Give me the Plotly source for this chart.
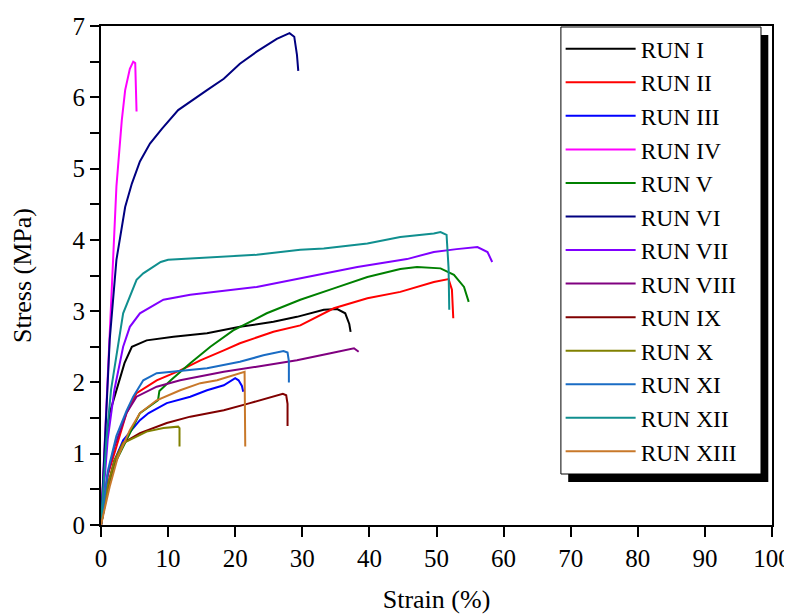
import plotly.graph_objects as go

run_names = ["RUN I", "RUN II", "RUN III", "RUN IV", "RUN V", "RUN VI", "RUN VII",
             "RUN VIII", "RUN IX", "RUN X", "RUN XI", "RUN XII", "RUN XIII"]
run_colors = ["#000000", "#FF0000", "#0000FF", "#FF00FF", "#008000", "#000080", "#8000FF",
              "#800080", "#800000", "#808000", "#1A6CC4", "#108F8F", "#C8782A"]

x_run1 = [0, 0.6, 1.3, 2.8, 3.5, 4.6, 6.8, 10.8, 15.8, 20.7, 25.7, 29.2, 33.2, 35.2, 36.4, 37.0, 37.2]
y_run1 = [0, 1.1, 1.57, 2.03, 2.27, 2.5, 2.59, 2.64, 2.69, 2.78, 2.85, 2.92, 3.02, 3.03, 2.97, 2.82, 2.71]

x_run2 = [0, 1.0, 2.3, 3.8, 5.3, 8.3, 11.8, 14.8, 18.3, 20.7, 25.7, 29.7, 34.7, 39.7, 44.6, 49.6, 51.8, 52.3, 52.5]
y_run2 = [0, 0.7, 1.1, 1.57, 1.85, 2.03, 2.17, 2.31, 2.45, 2.55, 2.71, 2.8, 3.04, 3.18, 3.27, 3.41, 3.45, 3.3, 2.9]

x_run3 = [0, 1.0, 2.0, 3.3, 5.8, 7.1, 9.8, 13.3, 15.8, 18.3, 20.0, 20.5, 21.0, 21.2]
y_run3 = [0, 0.5, 0.9, 1.19, 1.47, 1.57, 1.71, 1.8, 1.89, 1.96, 2.06, 2.03, 1.95, 1.87]

x_run4 = [0, 1.2, 1.7, 2.3, 3.1, 3.6, 4.3, 4.8, 5.1, 5.2, 5.3]
y_run4 = [0, 2.6, 3.6, 4.75, 5.68, 6.1, 6.4, 6.5, 6.48, 6.2, 5.8]

x_run5 = [0, 1.0, 2.0, 3.3, 5.8, 8.5, 8.7, 10.4, 13.3, 16.3, 19.7, 24.7, 29.7, 34.7, 39.7, 44.6, 47.1, 50.6, 52.6, 54.1, 54.8]
y_run5 = [0, 0.5, 0.85, 1.1, 1.57, 1.75, 1.88, 2.03, 2.27, 2.5, 2.73, 2.97, 3.16, 3.32, 3.48, 3.59, 3.62, 3.6, 3.51, 3.34, 3.13]

x_run6 = [0, 0.7, 1.3, 2.3, 2.9, 3.6, 4.6, 5.8, 7.3, 9.1, 11.5, 13.3, 15.8, 18.3, 20.7, 23.2, 24.7, 26.2, 28.1, 28.8, 29.2, 29.4]
y_run6 = [0, 1.5, 2.6, 3.72, 4.09, 4.46, 4.79, 5.1, 5.35, 5.56, 5.82, 5.94, 6.1, 6.26, 6.47, 6.64, 6.73, 6.82, 6.9, 6.85, 6.6, 6.37]

x_run7 = [0, 1.0, 2.0, 3.3, 4.3, 5.8, 9.3, 13.3, 23.2, 29.7, 38.2, 45.6, 49.6, 53.0, 56.1, 57.6, 58.3]
y_run7 = [0, 1.2, 1.9, 2.5, 2.78, 2.97, 3.16, 3.23, 3.34, 3.46, 3.62, 3.73, 3.83, 3.87, 3.9, 3.83, 3.69]

x_run8 = [0, 1.0, 2.0, 3.8, 5.3, 8.3, 11.8, 18.3, 23.2, 29.2, 34.2, 37.7, 38.4]
y_run8 = [0, 0.7, 1.1, 1.57, 1.8, 1.94, 2.03, 2.15, 2.22, 2.31, 2.41, 2.48, 2.43]

x_run9 = [0, 1.0, 2.0, 3.3, 5.8, 9.8, 13.3, 18.3, 22.2, 24.7, 27.1, 27.6, 27.8, 27.8]
y_run9 = [0, 0.55, 0.9, 1.15, 1.29, 1.43, 1.52, 1.61, 1.71, 1.78, 1.84, 1.82, 1.7, 1.39]

x_run10 = [0, 1.0, 2.0, 3.3, 5.3, 6.8, 9.3, 11.5, 11.7, 11.7]
y_run10 = [0, 0.55, 0.9, 1.15, 1.24, 1.31, 1.36, 1.38, 1.36, 1.10]

x_run11 = [0, 1.0, 2.3, 3.8, 4.8, 6.3, 8.3, 10.8, 15.8, 20.7, 24.2, 27.2, 27.8, 28.0, 28.0]
y_run11 = [0, 0.75, 1.25, 1.6, 1.8, 2.03, 2.13, 2.15, 2.2, 2.29, 2.38, 2.44, 2.42, 2.3, 2.0]

x_run12 = [0, 0.8, 1.5, 2.5, 3.3, 5.3, 6.3, 8.9, 10.0, 13.3, 23.2, 29.7, 33.2, 39.7, 44.6, 49.6, 50.6, 51.5, 51.8, 51.9]
y_run12 = [0, 1.2, 1.9, 2.5, 2.97, 3.44, 3.53, 3.69, 3.72, 3.74, 3.79, 3.86, 3.88, 3.95, 4.04, 4.09, 4.11, 4.07, 3.6, 3.02]

x_run13 = [0, 1.3, 2.5, 4.3, 5.8, 8.3, 11.8, 14.8, 17.3, 19.7, 21.4, 21.5]
y_run13 = [0, 0.54, 0.95, 1.33, 1.57, 1.75, 1.89, 1.99, 2.03, 2.1, 2.15, 1.10]

xs = [x_run1, x_run2, x_run3, x_run4, x_run5, x_run6, x_run7, x_run8, x_run9, x_run10, x_run11, x_run12, x_run13]
ys = [y_run1, y_run2, y_run3, y_run4, y_run5, y_run6, y_run7, y_run8, y_run9, y_run10, y_run11, y_run12, y_run13]

x_ticks = [0, 10, 20, 30, 40, 50, 60, 70, 80, 90, 100]
y_ticks = [0, 1, 2, 3, 4, 5, 6, 7]

FONT = "Liberation Serif, Times New Roman, serif"

fig = go.Figure()
for name, color, xv, yv in zip(run_names, run_colors, xs, ys):
    fig.add_trace(go.Scatter(x=xv, y=yv, mode="lines", name=name,
                             line=dict(color=color, width=2)))

fig.update_layout(
    width=784, height=606,
    margin=dict(l=93, r=20, t=18, b=89, autoexpand=False),
    paper_bgcolor="white", plot_bgcolor="white",
    font=dict(family=FONT, size=25, color="black"),
    showlegend=True,
    legend=dict(x=0.685, y=0.998, xanchor="left", yanchor="top",
                bgcolor="rgba(0,0,0,0)", borderwidth=0,
                font=dict(family=FONT, size=23.5, color="black"),
                itemwidth=70, tracegroupgap=0),
    shapes=[
        dict(type="rect", xref="paper", yref="paper",
             x0=0.6963, x1=0.9945, y0=0.0862, y1=0.982,
             fillcolor="black", line=dict(width=0), layer="above"),
        dict(type="rect", xref="paper", yref="paper",
             x0=0.6854, x1=0.9836, y0=0.1022, y1=0.998,
             fillcolor="white", line=dict(color="black", width=1), layer="above"),
    ],
)
fig.update_xaxes(range=[0, 100], tickvals=x_ticks, ticktext=[str(v) for v in x_ticks],
                 automargin=False,
                 showgrid=False, zeroline=False, showline=True, linecolor="black", linewidth=2,
                 mirror=True, ticks="outside", ticklen=10, tickwidth=2, tickcolor="black",
                 tickfont=dict(family=FONT, size=25),
                 title=dict(text="Strain (%)", font=dict(family=FONT, size=26), standoff=22))
fig.update_yaxes(range=[0, 7], tickvals=y_ticks, ticktext=[str(v) for v in y_ticks],
                 automargin=False,
                 showgrid=False, zeroline=False, showline=True, linecolor="black", linewidth=2,
                 mirror=True, ticks="outside", ticklen=9, tickwidth=2, tickcolor="black",
                 minor=dict(dtick=0.5, tick0=0, ticks="outside", ticklen=9, tickwidth=2, tickcolor="black", showgrid=False),
                 tickfont=dict(family=FONT, size=25),
                 title=dict(text="Stress (MPa)", font=dict(family=FONT, size=26), standoff=40))

fig.write_html("out.html")
